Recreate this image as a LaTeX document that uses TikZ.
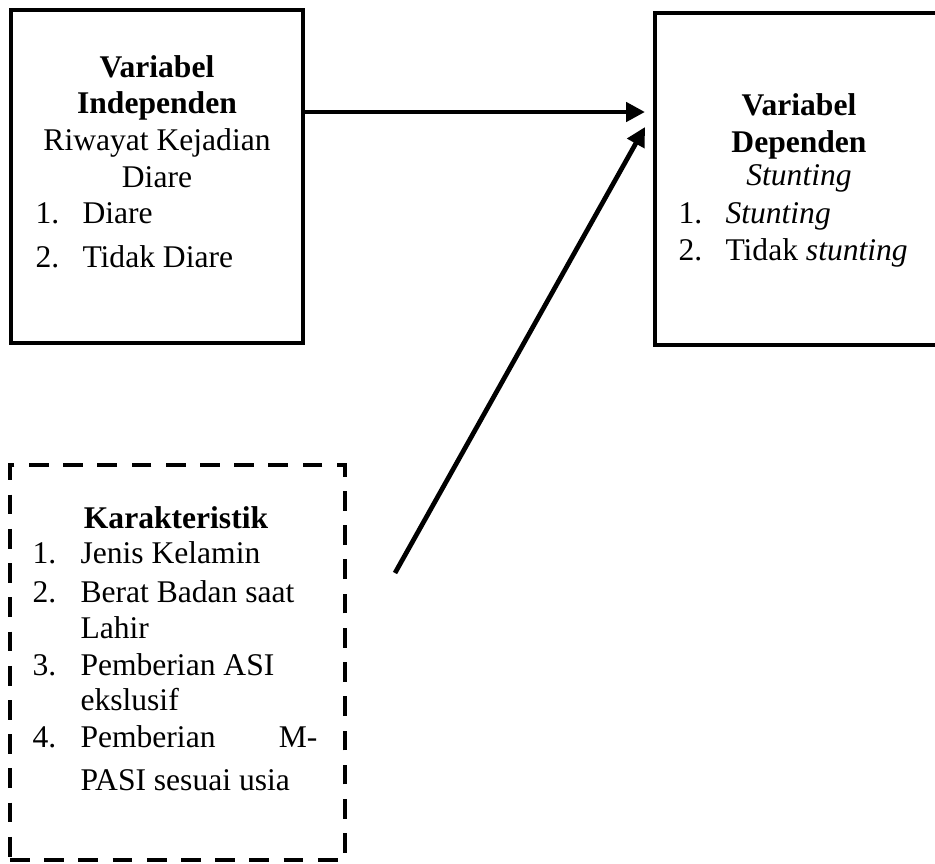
\documentclass[tikz,border=0pt]{standalone}
\usepackage{fontspec}
\setmainfont{Liberation Serif}
\usetikzlibrary{arrows.meta}

\tikzset{
    solidbox/.style={draw, line width=1.8pt, inner sep=0pt},
    dashbox/.style={draw, line width=1.8pt, inner sep=0pt, dash pattern=on 7.5pt off 5.5pt},
    txt/.style={inner sep=0pt, anchor=base, font=\fontsize{12pt}{14pt}\selectfont},
    itm/.style={txt, anchor=base west},
    link/.style={line width=1.8pt, -{Triangle[length=7.2pt,width=7.2pt]}}
}

\begin{document}
\begin{tikzpicture}[x=0.38pt, y=-0.38pt]
        \clip (0, 0) rectangle (935, 864);
        % independent variable
        \node[solidbox, minimum width=110.96pt, minimum height=126.54pt] (lbox) at (157, 176.5){};
            \node[txt] (lt1) at (157, 77){\textbf{Variabel}};
            \node[txt] (lt2) at (157, 113){\textbf{Independen}};
            \node[txt] (lt3) at (157, 150){Riwayat Kejadian};
            \node[txt] (lt4) at (157, 187){Diare};
            \node[itm] (ln1) at (35, 223){1.};
                \node[itm] (li1) at (82, 223){Diare};
            \node[itm] (ln2) at (35, 267){2.};
                \node[itm] (li2) at (82, 267){Tidak Diare};
        % dependent variable
        \node[solidbox, minimum width=109.44pt, minimum height=126.16pt] (rbox) at (799, 179){};
            \node[txt] (rt1) at (799, 115){\textbf{Variabel}};
            \node[txt] (rt2) at (799, 152){\textbf{Dependen}};
            \node[txt] (rt3) at (799, 185){\textit{Stunting}};
            \node[itm] (rn1) at (678, 223){1.};
                \node[itm] (ri1) at (725, 223){\textit{Stunting}};
            \node[itm] (rn2) at (678, 260){2.};
                \node[itm] (ri2) at (725, 260){Tidak \textit{stunting}};
        % characteristics
        \node[dashbox, minimum width=127.3pt, minimum height=150.1pt] (kbox) at (177.5, 662.5){};
            \node[txt] (kt) at (176, 528){\textbf{Karakteristik}};
            \node[itm] (kn1) at (32, 563){1.};
                \node[itm] (ki1) at (80, 563){Jenis Kelamin};
            \node[itm] (kn2) at (32, 602){2.};
                \node[itm] (ki2) at (80, 602){Berat Badan saat};
                \node[itm] (ki2b) at (80, 638){Lahir};
            \node[itm] (kn3) at (32, 675){3.};
                \node[itm] (ki3) at (80, 675){Pemberian ASI};
                \node[itm] (ki3b) at (80, 710){ekslusif};
            \node[itm] (kn4) at (32, 747){4.};
                \node[itm] (ki4) at (80, 747){Pemberian};
                \node[txt, anchor=base east] (ki4m) at (318, 747){M-};
                \node[itm] (ki4b) at (80, 790){PASI sesuai usia};
        % arrows
        \coordinate (inA) at (645, 112);
        \coordinate (inB) at (645, 127);
        \coordinate (outK) at (395, 573);
        \draw[link] (lbox.east |- inA) to (inA);
        \draw[link] (outK) to (inB);
    \end{tikzpicture}
\end{document}
